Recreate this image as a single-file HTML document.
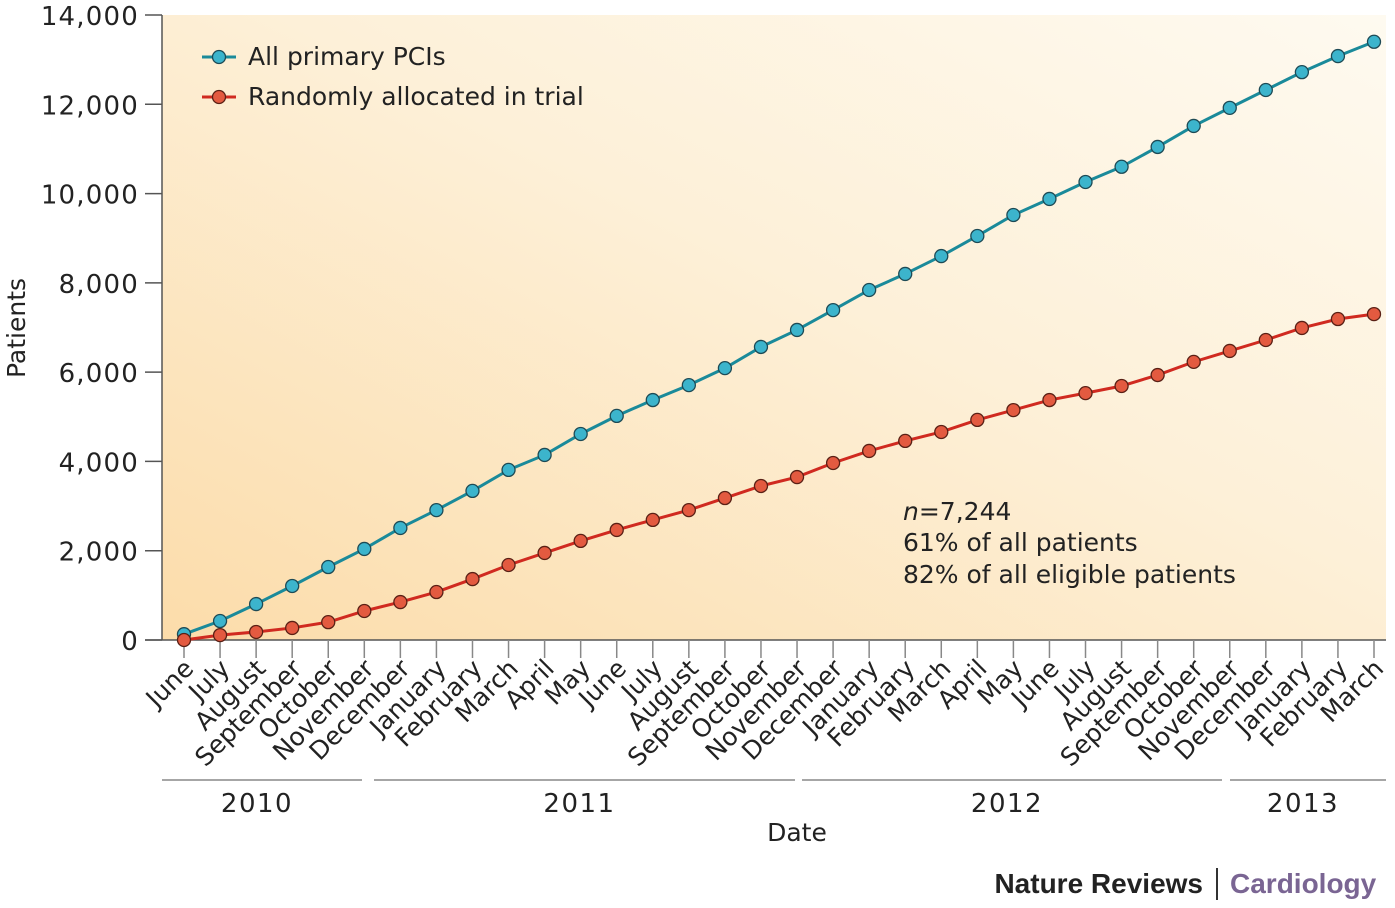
<!DOCTYPE html>
<html><head><meta charset="utf-8"><style>
body{margin:0;background:#fff;}
svg{display:block;font-family:"DejaVu Sans","Liberation Sans",sans-serif;}
</style></head><body>
<svg width="1395" height="908">
<defs>
<linearGradient id="bg" x1="0" y1="1" x2="1" y2="0">
<stop offset="0" stop-color="#fcdcaa"/><stop offset="0.55" stop-color="#fdf0d8"/><stop offset="1" stop-color="#fefaf0"/>
</linearGradient>
</defs>
<rect x="162" y="15" width="1224" height="625" fill="url(#bg)"/>
<g id="axes"></g>
<g id="marks"></g>
<g>
<line x1="202" y1="57" x2="236" y2="57" stroke="#1a8a9a" stroke-width="3"/>
<circle cx="219" cy="57" r="6.5" fill="#3cb4cc" stroke="#1d4a55" stroke-width="1.3"/>
<text x="248" y="65" font-size="25" fill="#222">All primary PCIs</text>
<line x1="202" y1="97" x2="236" y2="97" stroke="#d02a20" stroke-width="3"/>
<circle cx="219" cy="97" r="6.5" fill="#e35a40" stroke="#5a2015" stroke-width="1.3"/>
<text x="248" y="105" font-size="25" fill="#222">Randomly allocated in trial</text>
</g>
<g font-size="25" fill="#222">
<text x="903" y="520"><tspan font-style="italic">n</tspan>=7,244</text>
<text x="903" y="551">61% of all patients</text>
<text x="903" y="583">82% of all eligible patients</text>
</g>
<text transform="translate(25,328) rotate(-90)" text-anchor="middle" font-size="25" fill="#222">Patients</text>
<text x="797" y="841" text-anchor="middle" font-size="25" fill="#222">Date</text>
<text x="1203" y="893" text-anchor="end" font-size="28" font-weight="bold" fill="#222" font-family="Liberation Sans">Nature Reviews</text>
<line x1="1217" y1="868" x2="1217" y2="900" stroke="#333" stroke-width="2"/>
<text x="1230" y="893" font-size="28" font-weight="bold" fill="#7a6593" font-family="Liberation Sans">Cardiology</text>
</svg>
<script>
const months=["June","July","August","September","October","November","December","January","February","March","April","May","June","July","August","September","October","November","December","January","February","March","April","May","June","July","August","September","October","November","December","January","February","March"];
const allPCIs=[130,425,805,1210,1635,2040,2510,2910,3340,3810,4145,4615,5020,5375,5710,6090,6565,6945,7390,7840,8200,8600,9050,9520,9880,10260,10600,11045,11515,11920,12320,12720,13080,13400];
const randomized=[0,110,180,270,400,650,850,1075,1365,1680,1950,2220,2465,2690,2910,3180,3450,3650,3965,4235,4460,4660,4930,5150,5375,5530,5690,5935,6230,6475,6720,6990,7190,7300];
const yTicks=[0,2000,4000,6000,8000,10000,12000,14000];
const yTickLabels=["0","2,000","4,000","6,000","8,000","10,000","12,000","14,000"];
const years=["2010","2011","2012","2013"];
const NS="http://www.w3.org/2000/svg";
const X=i=>184+i*(1374-184)/33;
const Y=v=>640-v*625/14000;
function mk(t,a,p){const e=document.createElementNS(NS,t);for(const k in a)e.setAttribute(k,a[k]);p.appendChild(e);return e;}
const ax=document.getElementById('axes'),mg=document.getElementById('marks');
mk('line',{x1:162,y1:15,x2:162,y2:640,stroke:'#555','stroke-width':1.5},ax);
mk('line',{x1:145,y1:640,x2:1386,y2:640,stroke:'#555','stroke-width':1.5},ax);
yTicks.forEach((v,i)=>{
 mk('line',{x1:145,y1:Y(v),x2:162,y2:Y(v),stroke:'#555','stroke-width':1.5},ax);
 const t=mk('text',{x:139,y:Y(v)+10,'text-anchor':'end','font-size':26,'letter-spacing':1.2,fill:'#222'},ax);
 
 
 t.textContent=yTickLabels[i];
});
months.forEach((m,i)=>{
 mk('line',{x1:X(i),y1:640,x2:X(i),y2:658,stroke:'#888','stroke-width':1.5},ax);
 const t=mk('text',{transform:`translate(${X(i)+11},${670}) rotate(-45)`,'text-anchor':'end','font-size':25,fill:'#222'},ax);
 
 
 t.textContent=m;
});
const segs=[[162,362],[374,795],[802,1222],[1230,1386]];
years.forEach((y,i)=>{
 const x1=segs[i][0], x2=segs[i][1];
 mk('line',{x1:x1,y1:780,x2:x2,y2:780,stroke:'#888','stroke-width':1.5},ax);
 const t=mk('text',{x:(x1+x2)/2-5,y:812,'text-anchor':'middle','font-size':26,'letter-spacing':1.5,fill:'#222'},ax);
 
 
 t.textContent=y;
});
function series(vals,line,fill,stroke,name){
 const p=mk('polyline',{points:vals.map((v,i)=>X(i)+','+Y(v)).join(' '),fill:'none',stroke:line,'stroke-width':3},mg);
 
 
 vals.forEach((v,i)=>{
  const c=mk('circle',{cx:X(i),cy:Y(v),r:6.5,fill:fill,stroke:stroke,'stroke-width':1.3},mg);
  
  
 });
}
series(allPCIs,'#1a8a9a','#3cb4cc','#1d4a55','all-pcis');
series(randomized,'#d02a20','#e35a40','#5a2015','randomized');
</script>
</body></html>
